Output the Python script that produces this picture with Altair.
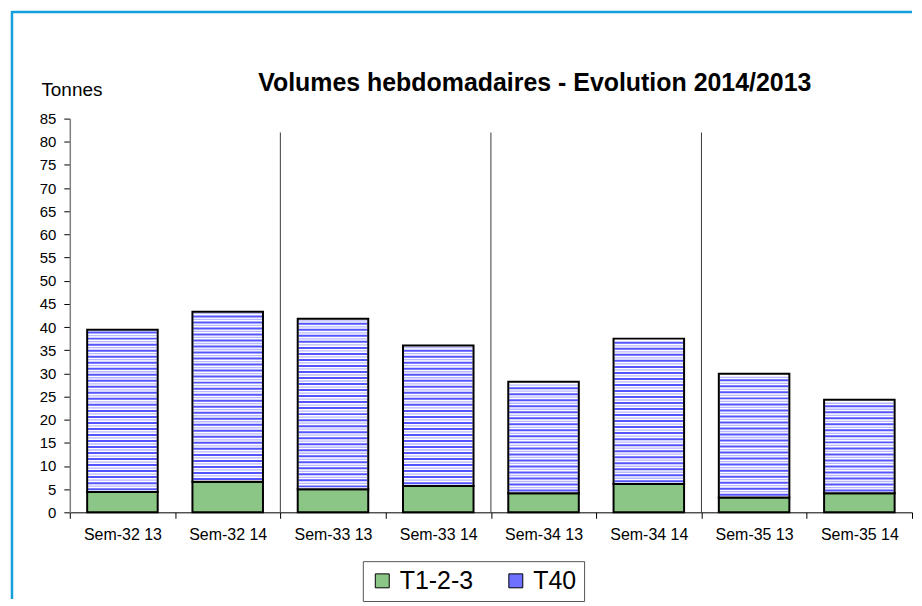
import altair as alt
import pandas as pd

# ---- data ----
weeks = ["Sem-32 13", "Sem-32 14", "Sem-33 13", "Sem-33 14",
         "Sem-34 13", "Sem-34 14", "Sem-35 13", "Sem-35 14"]
t123 = [4.4, 6.6, 5.0, 5.7, 4.1, 6.1, 3.2, 4.1]
t40 = [35.0, 36.7, 36.8, 30.3, 24.1, 31.4, 26.7, 20.2]
series = ["T1-2-3", "T40"]
week_starts = ["Sem-33 13", "Sem-34 13", "Sem-35 13"]
y_ticks = list(range(0, 90, 5))

df = pd.DataFrame({"week": weeks, "t123": t123, "t40": t40})
df["total"] = df["t123"] + df["t40"]
sep_df = pd.DataFrame({"week": week_starts})
leg_df = pd.DataFrame({"series": series, "week": [weeks[0]] * 2})
one_df = pd.DataFrame({"k": [0]})

FONT = "Liberation Sans"
GREEN = "#8cc686"
BLUE = "#0c0cff"
LIGHTBLUE = "#9a9aff"
FRAME = "#149fdb"

W, H = 845, 395
BAR = 0.67

xscale = alt.Scale(domain=weeks, paddingInner=0, paddingOuter=0)
yscale = alt.Scale(domain=[0, 85], nice=False)
yaxis = alt.Axis(values=y_ticks)


def xenc(**kw):
    return alt.X("week:N", sort=weeks, title=None, scale=xscale, **kw)


def yenc(field):
    return alt.Y(field, scale=yscale, title="Tonnes", axis=yaxis)


base = alt.Chart(df)

seps = alt.Chart(sep_df).mark_rule(color="#3a3a3a", strokeWidth=1).encode(
    x=xenc(bandPosition=0),
    y=alt.Y(datum=0, scale=yscale, title="Tonnes", axis=yaxis),
    y2=alt.datum(82),
)

frame_top = alt.Chart(one_df).mark_rule(color=FRAME, strokeWidth=2.5).encode(
    x=alt.value(-58), x2=alt.value(W), y=alt.value(-107)
)
frame_left = alt.Chart(one_df).mark_rule(color=FRAME, strokeWidth=2.5).encode(
    x=alt.value(-58), y=alt.value(-108), y2=alt.value(482)
)

green = base.mark_bar(width=alt.RelativeBandSize(BAR), fill=GREEN,
                      stroke="black", strokeWidth=2).encode(
    x=xenc(), y=yenc("t123:Q"), y2=alt.datum(0),
)

blue_fill = base.mark_bar(width=alt.RelativeBandSize(BAR), fill="white").encode(
    x=xenc(), y=yenc("total:Q"), y2="t123:Q",
)

stripes_strong = base.transform_calculate(
    s="sequence(datum.t123 + 0.6, datum.total - 0.3, 1.3)"
).transform_flatten(["s"]).mark_tick(size=69, thickness=2, color=BLUE).encode(
    x=xenc(), y=yenc("s:Q")
)

stripes_light = base.transform_calculate(
    s="sequence(datum.t123 + 1.25, datum.total - 0.3, 1.3)"
).transform_flatten(["s"]).mark_tick(size=69, thickness=1.3, color=LIGHTBLUE).encode(
    x=xenc(), y=yenc("s:Q")
)

outline = base.mark_bar(width=alt.RelativeBandSize(BAR), fillOpacity=0,
                        stroke="black", strokeWidth=2).encode(
    x=xenc(), y=yenc("total:Q"), y2="t123:Q",
)

legend_layer = alt.Chart(leg_df).mark_square(opacity=0, size=10).encode(
    x=xenc(),
    y=alt.Y(datum=0, scale=yscale, title="Tonnes", axis=yaxis),
    color=alt.Color(
        "series:N",
        scale=alt.Scale(domain=series, range=[GREEN, "#7070ff"]),
        legend=alt.Legend(
            orient="none", legendX=294, legendY=444, direction="horizontal",
            title=None, labelFont=FONT, labelFontSize=25, labelColor="black",
            symbolType="square", symbolSize=196, symbolStrokeColor="black",
            symbolStrokeWidth=1, symbolOpacity=1, strokeColor="#555555",
            fillColor="white", padding=7, columnPadding=30, labelOffset=5,
        ),
    ),
)

chart = alt.layer(
    seps, frame_top, frame_left, green, blue_fill, stripes_strong,
    stripes_light, outline, legend_layer,
).properties(
    width=W, height=H,
    padding={"left": 2, "top": 0, "right": 0, "bottom": 0},
    title=alt.TitleParams(
        text="Volumes hebdomadaires - Evolution 2014/2013",
        font=FONT, fontSize=25, fontWeight="bold", color="black",
        anchor="start", frame="group", dx=189, offset=0, dy=87,
    ),
).configure_view(stroke=None).configure_axisY(
    domainColor="#808080", domainWidth=1.5, tickColor="black", tickSize=6,
    labelFont=FONT, labelFontSize=15, labelColor="black", labelPadding=8,
    grid=False, titleAngle=0, titleAlign="left", titleX=-29, titleY=-23,
    titleBaseline="alphabetic", titleFont=FONT, titleFontSize=19,
    titleFontWeight="normal", titleColor="black",
).configure_axisX(
    domainColor="black", domainWidth=1, tickColor="black", tickSize=6,
    tickBand="extent", labelAngle=0, labelFont=FONT, labelFontSize=16,
    labelColor="black", labelPadding=8, grid=False,
)

chart.save("out.html", embed_options={"renderer": "svg", "actions": False})
